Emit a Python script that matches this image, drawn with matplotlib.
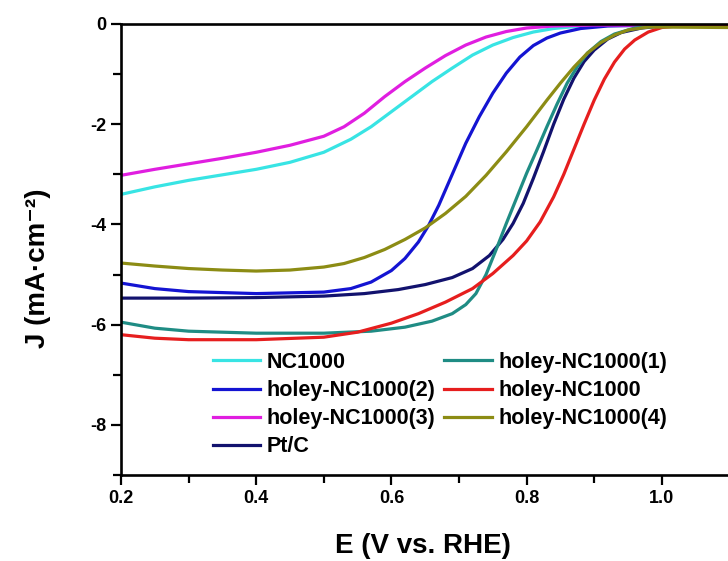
import matplotlib
matplotlib.use("Agg")
import matplotlib.pyplot as plt

plt.rcParams['font.family'] = ['Liberation Sans', 'DejaVu Sans']
plt.rcParams['font.weight'] = 'bold'
plt.rcParams['axes.unicode_minus'] = False

# ---- data (E in V vs. RHE, J in mA cm^-2) ----
e_nc = [0.20, 0.25, 0.30, 0.35, 0.40, 0.45, 0.50, 0.54, 0.57, 0.60, 0.63, 0.66, 0.69, 0.72, 0.75, 0.78, 0.81, 0.84, 0.88, 0.95, 1.10]
j_nc = [-3.40, -3.25, -3.12, -3.01, -2.90, -2.76, -2.56, -2.30, -2.05, -1.75, -1.45, -1.15, -0.88, -0.62, -0.42, -0.27, -0.16, -0.09, -0.04, -0.02, -0.03]

e_h3 = [0.20, 0.25, 0.30, 0.35, 0.40, 0.45, 0.50, 0.53, 0.56, 0.59, 0.62, 0.65, 0.68, 0.71, 0.74, 0.77, 0.80, 0.84, 0.90, 1.10]
j_h3 = [-3.02, -2.90, -2.79, -2.68, -2.56, -2.42, -2.24, -2.05, -1.78, -1.45, -1.15, -0.88, -0.63, -0.42, -0.26, -0.15, -0.08, -0.04, -0.02, -0.03]

e_h2 = [0.20, 0.25, 0.30, 0.40, 0.50, 0.54, 0.57, 0.60, 0.62, 0.64, 0.655, 0.67, 0.69, 0.71, 0.73, 0.75, 0.77, 0.79, 0.81, 0.83, 0.85, 0.88, 0.92, 1.00, 1.10]
j_h2 = [-5.17, -5.28, -5.34, -5.38, -5.35, -5.28, -5.15, -4.92, -4.68, -4.35, -4.02, -3.62, -3.00, -2.38, -1.85, -1.38, -0.98, -0.66, -0.43, -0.28, -0.18, -0.09, -0.04, -0.02, -0.03]

e_h4 = [0.20, 0.25, 0.30, 0.35, 0.40, 0.45, 0.50, 0.53, 0.56, 0.59, 0.62, 0.65, 0.68, 0.71, 0.74, 0.77, 0.80, 0.83, 0.85, 0.87, 0.89, 0.91, 0.93, 0.95, 0.98, 1.10]
j_h4 = [-4.77, -4.83, -4.88, -4.91, -4.93, -4.91, -4.85, -4.78, -4.66, -4.50, -4.30, -4.07, -3.78, -3.44, -3.02, -2.55, -2.05, -1.52, -1.18, -0.86, -0.58, -0.37, -0.22, -0.12, -0.06, -0.07]

e_pt = [0.20, 0.30, 0.40, 0.50, 0.56, 0.61, 0.65, 0.69, 0.72, 0.745, 0.765, 0.78, 0.795, 0.81, 0.825, 0.84, 0.855, 0.87, 0.885, 0.90, 0.92, 0.94, 0.97, 1.00, 1.10]
j_pt = [-5.47, -5.47, -5.46, -5.43, -5.38, -5.30, -5.20, -5.06, -4.88, -4.62, -4.30, -3.98, -3.58, -3.08, -2.55, -2.00, -1.50, -1.08, -0.75, -0.52, -0.30, -0.17, -0.08, -0.04, -0.04]

e_h1 = [0.20, 0.25, 0.30, 0.40, 0.50, 0.57, 0.62, 0.66, 0.69, 0.71, 0.725, 0.74, 0.755, 0.77, 0.785, 0.80, 0.815, 0.83, 0.845, 0.86, 0.875, 0.89, 0.91, 0.93, 0.96, 1.00, 1.10]
j_h1 = [-5.95, -6.07, -6.13, -6.17, -6.17, -6.13, -6.05, -5.93, -5.78, -5.60, -5.38, -5.00, -4.50, -3.98, -3.48, -2.98, -2.52, -2.05, -1.60, -1.18, -0.85, -0.58, -0.35, -0.20, -0.08, -0.04, -0.04]

e_h = [0.20, 0.25, 0.30, 0.40, 0.50, 0.55, 0.60, 0.64, 0.68, 0.72, 0.75, 0.78, 0.80, 0.82, 0.84, 0.855, 0.87, 0.885, 0.90, 0.915, 0.93, 0.945, 0.96, 0.98, 1.00, 1.03, 1.10]
j_h = [-6.20, -6.27, -6.30, -6.30, -6.25, -6.15, -5.97, -5.78, -5.55, -5.28, -4.98, -4.62, -4.33, -3.95, -3.45, -3.00, -2.50, -2.00, -1.52, -1.10, -0.76, -0.50, -0.32, -0.16, -0.07, -0.03, -0.04]

series = [
    ("NC1000", e_nc, j_nc, "#38e4e4"),
    ("holey-NC1000(2)", e_h2, j_h2, "#1414d2"),
    ("holey-NC1000(3)", e_h3, j_h3, "#e01ee0"),
    ("Pt/C", e_pt, j_pt, "#12126e"),
    ("holey-NC1000(1)", e_h1, j_h1, "#1f8c84"),
    ("holey-NC1000", e_h, j_h, "#e61e1e"),
    ("holey-NC1000(4)", e_h4, j_h4, "#8c8c14"),
]

W, H = 728, 561
fig = plt.figure(figsize=(W / 100, H / 100), dpi=100)
ax = fig.add_axes([121 / W, 1 - 475 / H, 608.4 / W, 451 / H])

for label, e, j, c in series:
    ax.plot(e, j, color=c, lw=2.3, label=label)

ax.set_xlim(0.2, 1.1)
ax.set_ylim(-9, 0)
ax.set_xticks([0.2, 0.4, 0.6, 0.8, 1.0])
ax.set_xticks([0.3, 0.5, 0.7, 0.9], minor=True)
ax.set_yticks([0, -2, -4, -6, -8])
ax.set_yticks([-1, -3, -5, -7, -9], minor=True)
ax.set_xticklabels(["0.2", "0.4", "0.6", "0.8", "1.0"])
ax.set_yticklabels(["0", "-2", "-4", "-6", "-8"])

for s in ax.spines.values():
    s.set_linewidth(1.9)
ax.spines['right'].set_visible(False)
ax.tick_params(which='both', direction='out', width=1.6, labelsize=13, top=False, right=False)
ax.tick_params(which='major', length=7)
ax.tick_params(which='minor', length=5.5)

ax.set_xlabel("E (V vs. RHE)", fontsize=20, fontweight='bold')
ax.xaxis.set_label_coords((423 - 121) / 608.4, -(546 - 475) / 451)
ax.xaxis.label.set_va('center')
ax.set_ylabel("J (mA\u00b7cm\u207b\u00b2)", fontsize=20, fontweight='bold')
ax.yaxis.set_label_coords(-(121 - 38) / 608.4, 1 - (268 - 24) / 451)
ax.yaxis.label.set_va('center')

ax.legend(loc='upper left', bbox_to_anchor=(213 / W, 1 - 352 / H), bbox_transform=fig.transFigure,
          ncol=2, frameon=False, handlelength=2.2, handletextpad=0.3,
          columnspacing=0.4, labelspacing=0.33, borderpad=0, borderaxespad=0,
          prop={'weight': 'bold', 'size': 15.5})

fig.savefig("out.png", dpi=100)
